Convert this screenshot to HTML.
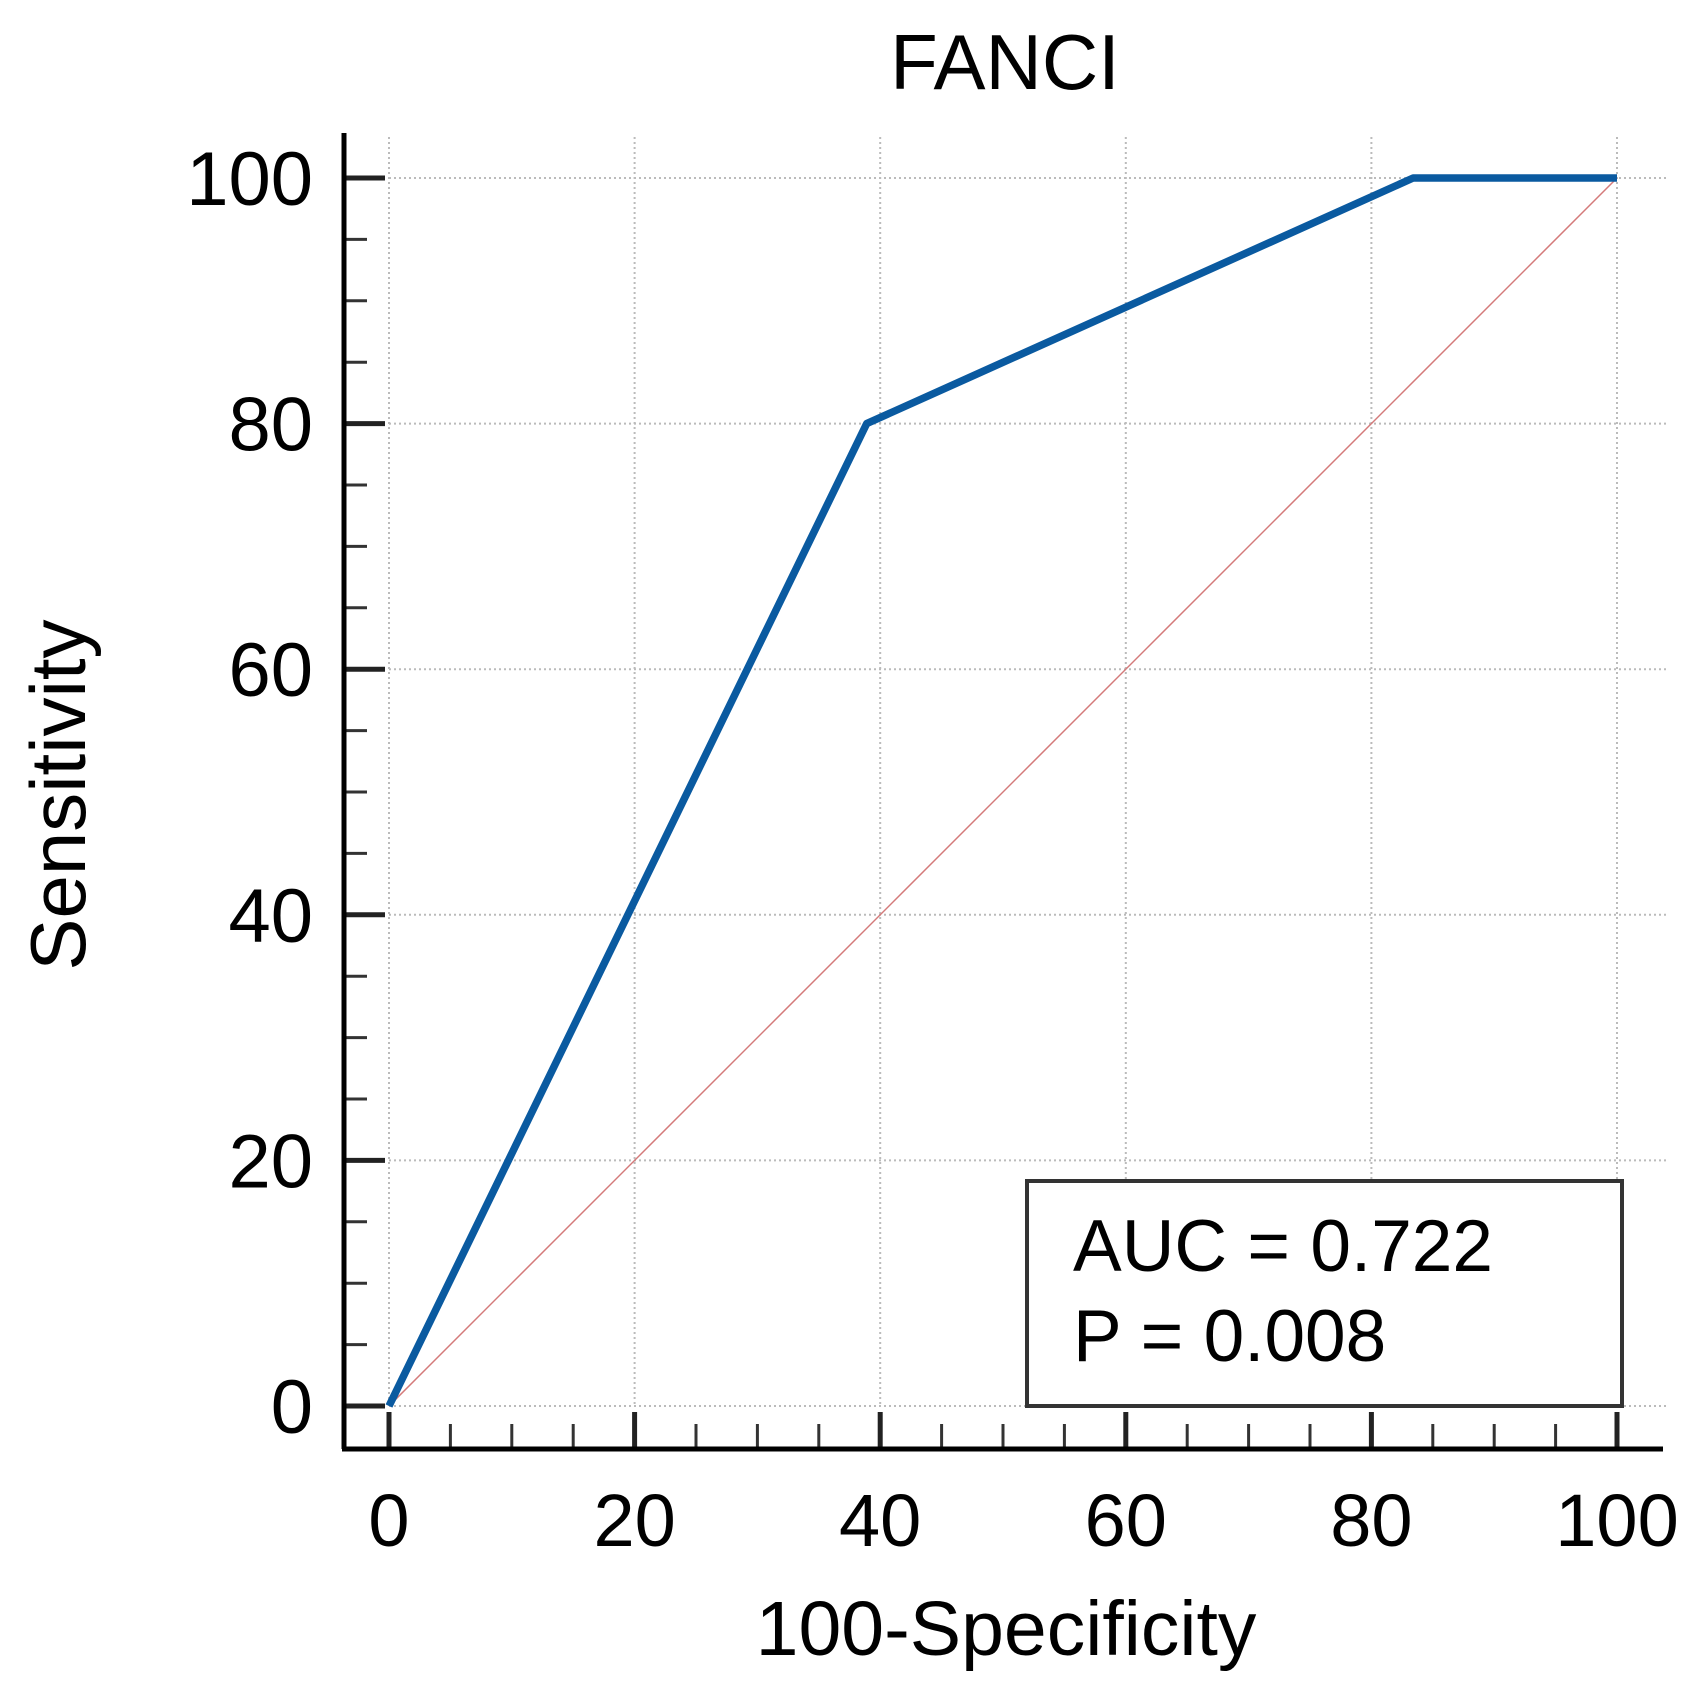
<!DOCTYPE html>
<html><head><meta charset="utf-8"><style>
html,body{margin:0;padding:0;background:#fff;}
svg{display:block;font-family:"Liberation Sans",Arial,sans-serif;}
</style></head><body>
<svg id="chart" width="1704" height="1704" viewBox="0 0 1704 1704">
<text x="1005" y="89" font-size="78" text-anchor="middle">FANCI</text>
<g id="grid"></g>
<g id="ticks"></g>
<line x1="344" y1="133" x2="344" y2="1449" stroke="#000" stroke-width="5"/>
<line x1="342" y1="1449" x2="1663" y2="1449" stroke="#000" stroke-width="5"/>
<g id="series"></g>
<rect x="1027" y="1181" width="595" height="225" fill="#fff" stroke="#333" stroke-width="4"/>
<text x="1073" y="1271" font-size="73">AUC = 0.722</text>
<text x="1073" y="1361" font-size="73">P = 0.008</text>
<text x="1006" y="1655" font-size="77" text-anchor="middle">100-Specificity</text>
<text transform="translate(85,795) rotate(-90)" font-size="78" text-anchor="middle">Sensitivity</text>
</svg>
<script>
const xTicks = [0, 20, 40, 60, 80, 100];
const yTicks = [0, 20, 40, 60, 80, 100];
const rocX = [0, 38.9, 83.4, 100];
const rocY = [0, 80, 100, 100];
const refX = [0, 100];
const refY = [0, 100];

const NS = "http://www.w3.org/2000/svg";
const X0 = 389, X1 = 1617, Y0 = 1406, Y1 = 178;
function sx(v){ return X0 + (X1 - X0) * v / 100; }
function sy(v){ return Y0 - (Y0 - Y1) * v / 100; }
function mk(tag, attrs, parent){
  const e = document.createElementNS(NS, tag);
  for (const k in attrs) e.setAttribute(k, attrs[k]);
  parent.appendChild(e);
  return e;
}
const grid = document.getElementById('grid');
const ticks = document.getElementById('ticks');
const series = document.getElementById('series');
const svg = document.getElementById('chart');

xTicks.forEach(v => {
  const g = mk('line', {x1: sx(v), y1: 137, x2: sx(v), y2: Y0, stroke: '#bbb', 'stroke-width': 2, 'stroke-dasharray': '2 3'}, grid);
  
  
  const t = mk('line', {x1: sx(v), y1: 1449, x2: sx(v), y2: 1412, stroke: '#222', 'stroke-width': 5}, ticks);
  
  
  const l = mk('text', {x: sx(v), y: 1546, 'font-size': 74, 'text-anchor': 'middle'}, svg);
  l.textContent = v;
  
  
});
yTicks.forEach(v => {
  const g = mk('line', {x1: X0, y1: sy(v), x2: 1666, y2: sy(v), stroke: '#bbb', 'stroke-width': 2, 'stroke-dasharray': '2 3'}, grid);
  
  
  const t = mk('line', {x1: 344, y1: sy(v), x2: 385, y2: sy(v), stroke: '#222', 'stroke-width': 5}, ticks);
  
  
  const l = mk('text', {x: 313, y: sy(v) + 27, 'font-size': 76, 'text-anchor': 'end'}, svg);
  l.textContent = v;
  
  
});
for (let v = 5; v < 100; v += 5) {
  if (v % 20 === 0) continue;
  const a = mk('line', {x1: sx(v), y1: 1449, x2: sx(v), y2: 1424, stroke: '#333', 'stroke-width': 3}, ticks);
  
  
  const b = mk('line', {x1: 344, y1: sy(v), x2: 367, y2: sy(v), stroke: '#333', 'stroke-width': 3}, ticks);
  
  
}
const ref = mk('polyline', {points: refX.map((x,i)=>sx(x)+','+sy(refY[i])).join(' '), fill: 'none', stroke: '#d47a7a', 'stroke-width': 1.5}, series);


const roc = mk('polyline', {points: rocX.map((x,i)=>sx(x)+','+sy(rocY[i])).join(' '), fill: 'none', stroke: '#0a5aa0', 'stroke-width': 7.5, 'stroke-linejoin': 'round'}, series);


</script>
</body></html>
